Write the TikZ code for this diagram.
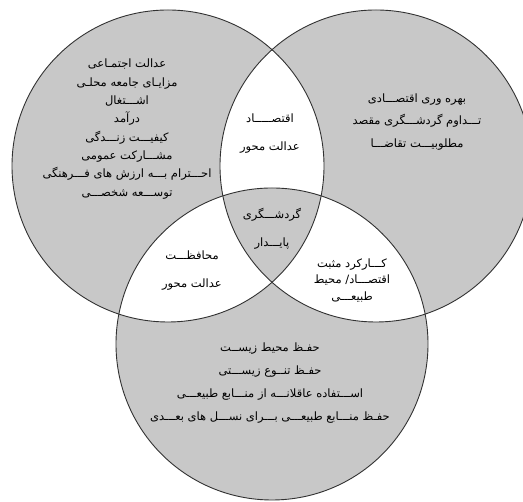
\documentclass[tikz,border=0pt]{standalone}
\usepackage{fontspec}
\usepackage{tikz}
\TeXXeTstate=1
\newfontfamily\arabicfont[Script=Arabic]{DejaVu Sans}
\definecolor{venngray}{RGB}{200,200,200}
\definecolor{vennline}{RGB}{50,50,50}
\def\fa#1{\beginR #1\endR}
\tikzset{
	venntext/.style={align=center, text=black, font=\arabicfont\fontsize{11.5}{18.3}\selectfont},
	vennring/.style={line width=0.9pt, draw=vennline}
}

\begin{document}
\begin{tikzpicture}[x=1pt, y=1pt]
		%%%%% START %%%%%
		
		\useasboundingbox (0, 0) rectangle (523, 502);
		
		\fill[venngray, even odd rule] (168, 336) circle (156pt) (376, 336) circle (156pt) (272, 158) circle (156pt);
		\draw[vennring] (168, 336) circle (156pt);
		\draw[vennring] (376, 336) circle (156pt);
		\draw[vennring] (272, 158) circle (156pt);
		
		\node[venntext] (social) at (127, 373) {\fa{عدالت اجتمـاعی}\\ \fa{مزایـای جامعه محلـی}\\ \fa{اشـــتغال}\\ \fa{درآمد}\\ \fa{کیفیـــت زنـــدگی}\\ \fa{مشـــارکت عمومی}\\ \fa{احـــترام بـــه ارزش های فـــرهنگی}\\ \fa{توســـعه شخصـــی}};
		
		\node[venntext, font=\arabicfont\fontsize{11.5}{22.5}\selectfont] (economic) at (417, 380) {\fa{بهره وری اقتصـــادی}\\ \fa{تـــداوم گردشـــگری مقصد}\\ \fa{مطلوبیـــت تقاضـــا}};
		
		\node[venntext, font=\arabicfont\fontsize{11.5}{28}\selectfont] (econsocial) at (270, 368) {\fa{اقتصـــــاد}\\ \fa{عدالت محور}};
		
		\node[venntext, font=\arabicfont\fontsize{11.5}{28}\selectfont] (core) at (272, 273) {\fa{گردشـــگری}\\ \fa{پایـــدار}};
		
		\node[venntext, font=\arabicfont\fontsize{11.5}{28}\selectfont] (socialenv) at (192, 231) {\fa{محافظـــت}\\ \fa{عدالت محور}};
		
		\node[venntext, font=\arabicfont\fontsize{11.5}{16.5}\selectfont] (econenv) at (352, 222) {\fa{کـــارکرد مثبت}\\ \fa{اقتصـــاد/ محیط}\\ \fa{طبیعـــی}};
		
		\node[venntext, font=\arabicfont\fontsize{11.5}{23.3}\selectfont] (environment) at (270, 119) {\fa{حفـظ محیط زیســت}\\ \fa{حفـظ تنــوع زیســـتی}\\ \fa{اســـتفاده عاقلانـــه از منـــابع طبیعـــی}\\ \fa{حفـظ منـــابع طبیعـــی بـــرای نســـل های بعـــدی}};
		
		%%%%% END %%%%%
	\end{tikzpicture}
\end{document}
